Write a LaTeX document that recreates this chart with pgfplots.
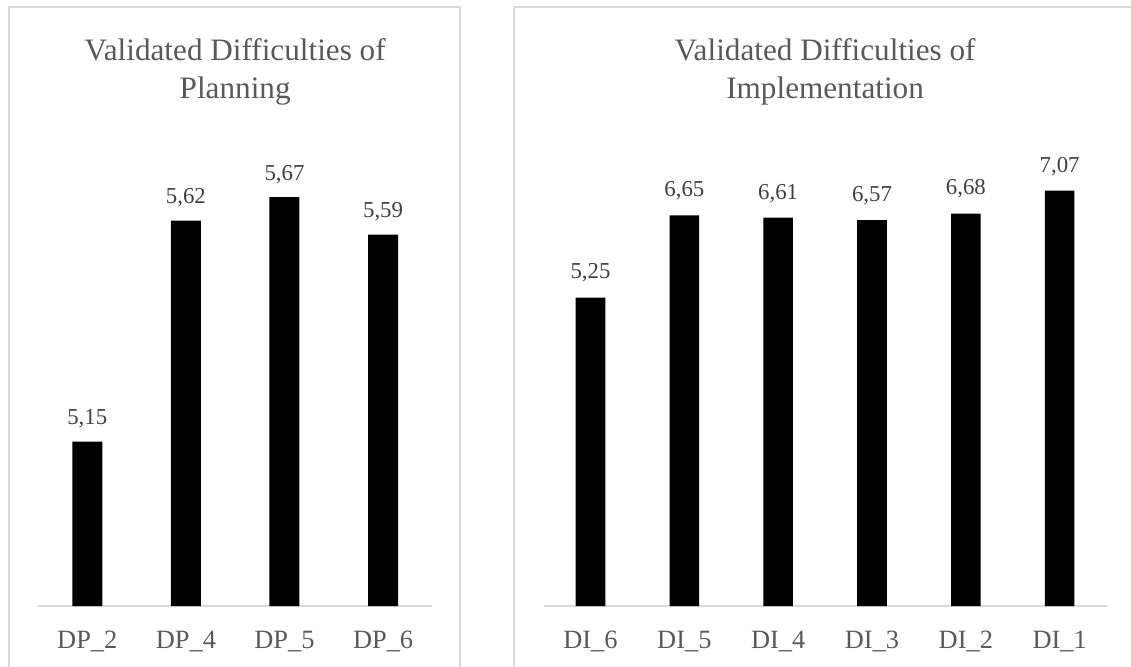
\documentclass[border=0pt]{standalone}
\usepackage{fontspec}
\setmainfont{Liberation Serif}
\usepackage{pgfplots}
\pgfplotsset{compat=1.18}

\definecolor{txtgray}{HTML}{595959}
\definecolor{lblgray}{HTML}{404040}
\definecolor{linegray}{HTML}{D9D9D9}

\pgfplotsset{
  panel/.style={
    scale only axis,
    height=235pt,
    ybar,
    clip mode=individual,
    enlargelimits=false,
    axis x line*=bottom,
    axis y line=none,
    x axis line style={linegray, line width=1pt, -},
    major tick length=0pt,
    xtick=data,
    xticklabel style={font=\fontsize{13.2}{15}\selectfont, text=txtgray, anchor=base, yshift=-21pt},
    nodes near coords,
    /pgf/number format/.cd, fixed, fixed zerofill, precision=2, use comma, assume math mode=true,
    /pgfplots/.cd,
    every node near coord/.append style={font=\fontsize{11.4}{13}\selectfont, text=lblgray, anchor=base},
  },
}

\begin{document}
\begin{tikzpicture}
% panel frames
\draw[linegray, line width=1pt] (4.5pt,-10pt) -- (4.5pt,329.5pt) -- (230.2pt,329.5pt) -- (230.2pt,-10pt);
\draw[linegray, line width=1pt] (257pt,-10pt) -- (257pt,329.5pt) -- (580pt,329.5pt);

\begin{axis}[panel,
  at={(19pt,30pt)}, anchor=south west,
  width=197.2pt,
  xmin=-0.5, xmax=3.5, ymin=4.8, ymax=5.8,
  bar width=15pt,
  xticklabels={DP\_2, DP\_4, DP\_5, DP\_6},
  every node near coord/.append style={yshift=8.4pt},
]
\addplot[fill=black, draw=none] coordinates {(0,5.15) (1,5.62) (2,5.67) (3,5.59)};
\node[anchor=north, inner sep=0pt, align=center, text=txtgray,
  font=\fontsize{15.6}{19}\selectfont] at (axis description cs:0.5,1.2085)
  {Validated Difficulties of\\Planning};
\end{axis}

\begin{axis}[panel,
  at={(271.8pt,30pt)}, anchor=south west,
  width=281.5pt,
  xmin=-0.5, xmax=5.5, ymin=0, ymax=8,
  bar width=14.8pt,
  xticklabels={DI\_6, DI\_5, DI\_4, DI\_3, DI\_2, DI\_1},
  every node near coord/.append style={yshift=9.3pt},
]
\addplot[fill=black, draw=none] coordinates {(0,5.25) (1,6.65) (2,6.61) (3,6.57) (4,6.68) (5,7.07)};
\node[anchor=north, inner sep=0pt, align=center, text=txtgray,
  font=\fontsize{15.6}{19}\selectfont] at (axis description cs:0.5,1.2085)
  {Validated Difficulties of\\Implementation};
\end{axis}

\pgfresetboundingbox
\path[use as bounding box] (0,0) rectangle (565.5pt,333pt);
\end{tikzpicture}
\end{document}
